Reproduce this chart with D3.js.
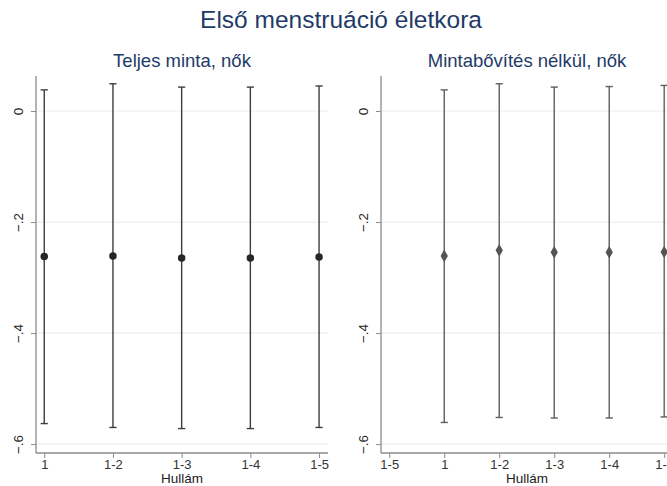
<!DOCTYPE html>
<html>
<head>
<meta charset="utf-8">
<script src="https://cdn.jsdelivr.net/npm/d3@7"></script>
<style>
  html, body { margin: 0; padding: 0; background: #ffffff; }
  svg { display: block; font-family: "Liberation Sans", Arial, sans-serif; }
</style>
</head>
<body>
<svg id="chart" width="667" height="486"></svg>
<script>
// Age at first menstruation: coefficient estimates with confidence intervals per wave set
const waveLabels = ["1-5", "1", "1-2", "1-3", "1-4", "1-5"];   // tick labels at positions 0..5
const yTicks = [0, -0.2, -0.4, -0.6];

// Full sample, women
const fullPos   = [1, 2, 3, 4, 5];
const fullEst   = [-0.262, -0.261, -0.265, -0.265, -0.263];
const fullLow   = [-0.563, -0.570, -0.572, -0.572, -0.570];
const fullHigh  = [0.038, 0.049, 0.043, 0.043, 0.045];

// Without sample extension, women
const restPos   = [1, 2, 3, 4, 5];
const restEst   = [-0.261, -0.251, -0.2545, -0.2545, -0.254];
const restLow   = [-0.561, -0.552, -0.553, -0.553, -0.551];
const restHigh  = [0.038, 0.049, 0.043, 0.044, 0.046];

const svg = d3.select("#chart");
const titleColor = "#1e3b67";

svg.append("text")
  .attr("x", 341).attr("y", 28)
  .attr("text-anchor", "middle")
  .attr("font-size", 24.5)
  .attr("fill", titleColor)
  .text("Első menstruáció életkora");

const y = d3.scaleLinear().domain([-0.616, 0.063]).range([453, 76]);
const fmt = v => v === 0 ? "0" : d3.format(".1f")(v).replace("0.", ".");

function panel(opts) {
  const g = svg.append("g");
  const x = d3.scaleLinear().domain(opts.xDomain).range([opts.left, opts.left + 292]);

  // subtitle
  g.append("text")
    .attr("x", opts.titleX).attr("y", 67)
    .attr("text-anchor", "middle")
    .attr("font-size", 18.5)
    .attr("fill", titleColor)
    .text(opts.title);

  // horizontal grid lines
  g.selectAll("line.grid").data(yTicks).join("line")
    .attr("class", "grid")
    .attr("x1", opts.left).attr("x2", opts.left + 292)
    .attr("y1", d => y(d)).attr("y2", d => y(d))
    .attr("stroke", "#e8f0f1").attr("stroke-width", 1.2);

  // y axis
  const yAxis = g.append("g")
    .attr("transform", `translate(${opts.left},0)`)
    .call(d3.axisLeft(y).tickValues(yTicks).tickFormat(fmt).tickSize(5).tickPadding(0).tickSizeOuter(0));
  yAxis.select(".domain").attr("stroke", "#8c8c8c").attr("stroke-width", 1.3)
    .attr("d", `M0,${y.range()[1]}V${y.range()[0]}`);
  yAxis.selectAll(".tick line").attr("stroke", "#8c8c8c").attr("stroke-width", 1);
  yAxis.selectAll(".tick text")
    .attr("font-size", 13.4).attr("fill", "#222")
    .attr("font-family", "Liberation Sans, Arial, sans-serif")
    .attr("text-anchor", "middle")
    .attr("dy", 0)
    .attr("x", 0)
    .attr("transform", "translate(-13,0) rotate(-90)");

  // x axis
  const xTickVals = d3.range(0, 6).filter(v => v >= opts.xDomain[0] && v <= opts.xDomain[1] + 0.5);
  const xAxis = g.append("g")
    .attr("transform", `translate(0,453)`)
    .call(d3.axisBottom(x).tickValues(xTickVals).tickFormat(i => waveLabels[i]).tickSize(5).tickPadding(2).tickSizeOuter(0));
  xAxis.select(".domain").attr("stroke", "#8c8c8c").attr("stroke-width", 1.3)
    .attr("d", `M${opts.left},0H${opts.left + 292}`);
  xAxis.selectAll(".tick line").attr("stroke", "#8c8c8c").attr("stroke-width", 1);
  xAxis.selectAll(".tick text")
    .attr("font-size", 13).attr("fill", "#333")
    .attr("font-family", "Liberation Sans, Arial, sans-serif");

  g.append("text")
    .attr("x", opts.titleX).attr("y", 483)
    .attr("text-anchor", "middle")
    .attr("font-size", 13.5)
    .attr("fill", "#222")
    .text("Hullám");

  // confidence intervals
  const rows = opts.pos.map((p, i) => ({ p, est: opts.est[i], lo: opts.low[i], hi: opts.high[i] }));
  const bars = g.append("g");
  bars.selectAll("line.ci").data(rows).join("line")
    .attr("x1", d => x(d.p)).attr("x2", d => x(d.p))
    .attr("y1", d => y(d.hi)).attr("y2", d => y(d.lo))
    .attr("stroke", opts.lineColor).attr("stroke-width", 1.4);
  ["hi", "lo"].forEach(k => {
    bars.selectAll("line.cap" + k).data(rows).join("line")
      .attr("x1", d => x(d.p) - 3.6).attr("x2", d => x(d.p) + 3.6)
      .attr("y1", d => y(d[k])).attr("y2", d => y(d[k]))
      .attr("stroke", opts.lineColor).attr("stroke-width", 1.4);
  });

  // point estimates
  g.selectAll("path.pt").data(rows).join("path")
    .attr("transform", d => `translate(${x(d.p)},${y(d.est)})`)
    .attr("d", d3.symbol().type(opts.symbol).size(opts.symbolSize)())
    .attr("fill", opts.markColor);
}

panel({
  title: "Teljes minta, nők", titleX: 182, left: 36, xDomain: [0.88, 5.13],
  pos: fullPos, est: fullEst, low: fullLow, high: fullHigh,
  lineColor: "#3d3d3d", markColor: "#262626", symbol: d3.symbolCircle, symbolSize: 44
});

panel({
  title: "Mintabővítés nélkül, nők", titleX: 527, left: 381, xDomain: [-0.15, 5.16],
  pos: restPos, est: restEst, low: restLow, high: restHigh,
  lineColor: "#5e5e5e", markColor: "#555555", symbol: d3.symbolDiamond, symbolSize: 46
});
</script>
</body>
</html>
